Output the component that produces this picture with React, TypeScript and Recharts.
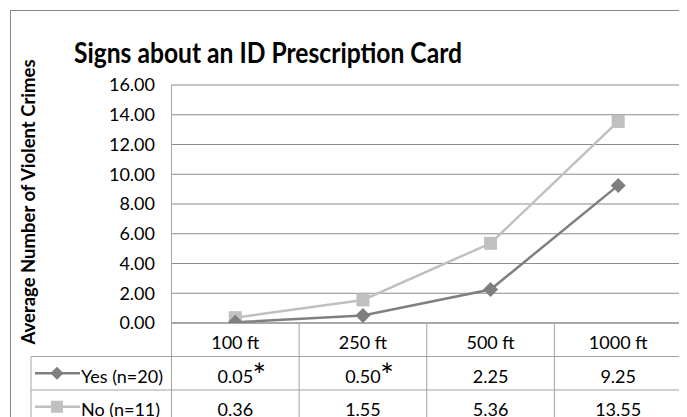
import React from 'react';
import { LineChart, Line, XAxis, YAxis, CartesianGrid, Customized } from 'recharts';

// Distance from the sign, and average violent crimes per group
const categories = ['100 ft', '250 ft', '500 ft', '1000 ft'];
const yesValues = [0.05, 0.5, 2.25, 9.25];
const noValues = [0.36, 1.55, 5.36, 13.55];
// Significance markers shown next to the "Yes" values
const yesNotes = ['*', '*', '', ''];
const yTicks = [0, 2, 4, 6, 8, 10, 12, 14, 16];
const yesLabel = 'Yes (n=20)';
const noLabel = 'No (n=11)';
const chartTitle = 'Signs about an ID Prescription Card';
const yAxisTitle = 'Average Number of Violent Crimes';

const data = categories.map((category, i) => ({
  category,
  yes: yesValues[i],
  no: noValues[i],
}));

const W = 679;
const H = 409;
const PLOT_LEFT = 163.5;
const PLOT_TOP = 77;
const PLOT_RIGHT = 674;
const PLOT_BOTTOM = 315;
const YAXIS_W = 100;
const ROW_H = 33.5;
const TABLE_LEFT = 23;
const BAND = (PLOT_RIGHT - PLOT_LEFT) / categories.length;

const FONT = 'Lato, "Open Sans", sans-serif';
const YES_COLOR = '#7f7f7f';
const NO_COLOR = '#c0c0c0';
const GRID_COLOR = '#8c8c8c';
const TABLE_COLOR = '#a3a3a3';
const FRAME_COLOR = '#8a8a8a';

const rowTop = (row: number) => PLOT_BOTTOM + row * ROW_H;
const rowBaseline = (row: number) => rowTop(row) + 26;

const Diamond = (props: any) => {
  const { cx, cy, index } = props;
  if (cx == null || cy == null) return <g key={index} />;
  const r = 7.5;
  return (
    <path
      key={index}
      d={`M${cx},${cy - r} L${cx + r},${cy} L${cx},${cy + r} L${cx - r},${cy} Z`}
      fill={YES_COLOR}
    />
  );
};

const Square = (props: any) => {
  const { cx, cy, index } = props;
  if (cx == null || cy == null) return <g key={index} />;
  const s = 13;
  return <rect key={index} x={cx - s / 2} y={cy - s / 2} width={s} height={s} fill={NO_COLOR} />;
};

// One column of the data table under each category
const TableColumn = (props: any) => {
  const { x, payload } = props;
  const i = payload.index;
  const bottom = rowTop(3) + 10;
  return (
    <g>
      {i === 0 && (
        <line x1={x - BAND / 2} x2={x - BAND / 2} y1={PLOT_BOTTOM} y2={bottom} stroke={TABLE_COLOR} />
      )}
      <line x1={x + BAND / 2} x2={x + BAND / 2} y1={PLOT_BOTTOM} y2={bottom} stroke={TABLE_COLOR} />
      <text x={x} y={rowBaseline(0)} textAnchor="middle" fontFamily={FONT} fontSize={18} fill="#000">
        {payload.value}
      </text>
      <text x={x} y={rowBaseline(1)} textAnchor="middle" fontFamily={FONT} fontSize={18} fill="#000">
        {yesValues[i].toFixed(2)}
      </text>
      {yesNotes[i] && (
        <text x={x + 24} y={rowBaseline(1) + 4} textAnchor="middle" fontFamily={FONT} fontSize={32} fill="#000">
          {yesNotes[i]}
        </text>
      )}
      <text x={x} y={rowBaseline(2)} textAnchor="middle" fontFamily={FONT} fontSize={18} fill="#000">
        {noValues[i].toFixed(2)}
      </text>
    </g>
  );
};

// Frame, titles and the row headers of the data table
const Decorations = () => {
  const bottom = rowTop(3) + 10;
  const legendRow = (row: number, label: string, color: string, marker: 'diamond' | 'square') => {
    const cy = rowTop(row) + ROW_H / 2;
    const mx = TABLE_LEFT + 26;
    return (
      <g>
        <line x1={TABLE_LEFT + 4} x2={TABLE_LEFT + 49} y1={cy} y2={cy} stroke={color} strokeWidth={2.5} />
        {marker === 'diamond' ? (
          <path d={`M${mx},${cy - 6.5} L${mx + 6.5},${cy} L${mx},${cy + 6.5} L${mx - 6.5},${cy} Z`} fill={color} />
        ) : (
          <rect x={mx - 6} y={cy - 6} width={12} height={12} fill={color} />
        )}
        <text x={TABLE_LEFT + 50} y={rowBaseline(row)} fontFamily={FONT} fontSize={18} fill="#000">
          {label}
        </text>
      </g>
    );
  };
  return (
    <g>
      <line x1={2} x2={W} y1={2.5} y2={2.5} stroke={FRAME_COLOR} />
      <line x1={2.5} x2={2.5} y1={2} y2={H} stroke={FRAME_COLOR} />
      <text
        x={260}
        y={55}
        textAnchor="middle"
        fontFamily={FONT}
        fontWeight={700}
        fontSize={28}
        textLength={388}
        lengthAdjust="spacingAndGlyphs"
        fill="#000"
      >
        {chartTitle}
      </text>
      <text
        transform={`translate(27, ${(PLOT_TOP + PLOT_BOTTOM) / 2 - 2}) rotate(-90)`}
        textAnchor="middle"
        fontFamily={FONT}
        fontWeight={700}
        fontSize={18.5}
        fill="#000"
      >
        {yAxisTitle}
      </text>
      <line x1={TABLE_LEFT} x2={PLOT_RIGHT} y1={rowTop(1)} y2={rowTop(1)} stroke={TABLE_COLOR} />
      <line x1={TABLE_LEFT} x2={PLOT_RIGHT} y1={rowTop(2)} y2={rowTop(2)} stroke={TABLE_COLOR} />
      <line x1={TABLE_LEFT} x2={TABLE_LEFT} y1={rowTop(1)} y2={bottom} stroke={TABLE_COLOR} />
      {legendRow(1, yesLabel, YES_COLOR, 'diamond')}
      {legendRow(2, noLabel, NO_COLOR, 'square')}
    </g>
  );
};

export default function App() {
  return (
    <LineChart
      width={W}
      height={H}
      data={data}
      margin={{ top: PLOT_TOP, right: W - PLOT_RIGHT, left: PLOT_LEFT - YAXIS_W, bottom: 0 }}
    >
      <CartesianGrid vertical={false} stroke={GRID_COLOR} />
      <XAxis
        dataKey="category"
        height={H - PLOT_BOTTOM}
        padding={{ left: BAND / 2, right: BAND / 2 }}
        axisLine={{ stroke: GRID_COLOR }}
        tickLine={false}
        tick={(p: any) => <TableColumn {...p} />}
        interval={0}
      />
      <YAxis
        width={YAXIS_W}
        domain={[0, 16]}
        ticks={yTicks}
        tickFormatter={(v: number) => v.toFixed(2)}
        axisLine={{ stroke: TABLE_COLOR }}
        tickLine={false}
        tickMargin={10.5}
        tick={{ fontFamily: FONT, fontSize: 18, fill: '#000' }}
        allowDataOverflow
      />
      <Line
        dataKey="no"
        stroke={NO_COLOR}
        strokeWidth={2.5}
        dot={(p: any) => <Square {...p} />}
        activeDot={false}
        isAnimationActive={false}
      />
      <Line
        dataKey="yes"
        stroke={YES_COLOR}
        strokeWidth={2.5}
        dot={(p: any) => <Diamond {...p} />}
        activeDot={false}
        isAnimationActive={false}
      />
      <Customized component={Decorations} />
    </LineChart>
  );
}
